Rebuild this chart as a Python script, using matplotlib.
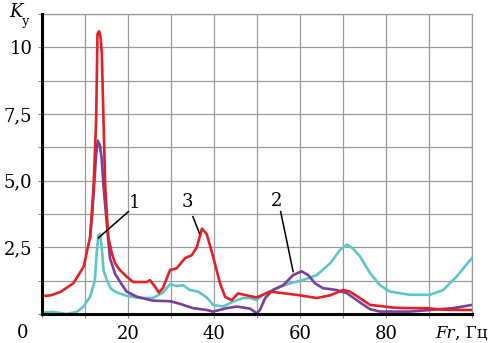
import matplotlib
matplotlib.use("Agg")
import matplotlib.pyplot as plt

# curve 3 (red)
red_x = [0, 2, 4.2, 7.3, 9.7, 11.2, 12.0, 12.6, 12.9, 13.3, 13.6, 13.9, 14.3, 14.7, 15.4,
         16.2, 17.0, 18.1, 19.7, 21.2, 22.8, 24.4, 25.1, 26.3, 27.2, 28.1, 29.8, 31.3, 33.3,
         34.8, 36.0, 37.2, 38.3, 39.8, 41.4, 42.6, 44.1, 45.6, 47.6, 49.9, 51.4, 53.0, 56.1,
         60.0, 63.9, 67.0, 70.0, 71.6, 73.9, 76.3, 78.6, 81.7, 84.8, 89.5, 93.3, 100]
red_y = [0.67, 0.7, 0.82, 1.15, 1.78, 2.9, 4.8, 7.3, 10.5, 10.6, 10.4, 9.8, 7.3, 4.8, 2.9,
         2.3, 1.9, 1.65, 1.4, 1.2, 1.2, 1.2, 1.27, 1.02, 0.8, 0.97, 1.65, 1.71, 2.1,
         2.2, 2.5, 3.2, 3.0, 2.15, 1.15, 0.64, 0.52, 0.77, 0.7, 0.62, 0.72, 0.84, 0.78,
         0.7, 0.6, 0.7, 0.9, 0.84, 0.6, 0.34, 0.3, 0.24, 0.22, 0.22, 0.16, 0.15]

# curve 1 (cyan)
cyan_x = [0, 2.6, 5.7, 8.1, 9.6, 11.2, 12.3, 12.7, 13.1, 13.5, 13.9, 14.3, 15.0, 16.0, 17.5,
          19.7, 22.8, 25.8, 28.1, 29.8, 31.3, 32.8, 34.4, 36.3, 38.3, 39.8, 42.1, 44.4, 46.8,
          48.4, 49.9, 51.4, 54.6, 57.7, 60.7, 63.9, 67.0, 69.3, 70.9, 72.3, 74.0, 76.3, 78.6,
          80.9, 85.6, 90.2, 93.3, 96.4, 100]
cyan_y = [0.05, 0.08, 0.0, 0.08, 0.27, 0.65, 1.27, 2.27, 2.95, 3.0, 2.5, 1.65, 1.3, 0.95, 0.8,
          0.68, 0.6, 0.6, 0.8, 1.12, 1.05, 1.08, 0.9, 0.84, 0.62, 0.34, 0.28, 0.46, 0.6,
          0.6, 0.52, 0.72, 0.97, 1.15, 1.27, 1.46, 1.9, 2.4, 2.6, 2.46, 2.15, 1.53, 1.08,
          0.84, 0.72, 0.72, 0.9, 1.4, 2.1]

# curve 2 (purple)
purple_x = [11.2, 11.7, 12.2, 12.6, 13.0, 13.5, 13.9, 14.3, 15.0, 15.8, 17.0,
            18.9, 19.7, 22.0, 25.8, 29.8, 32.1, 35.1, 38.3, 39.8, 43.0, 45.3, 47.6, 48.4,
            49.9, 50.7, 51.9, 53.7, 56.1, 58.4, 60.4, 61.9, 63.5, 65.3, 68.5, 70.9, 74.0,
            76.3, 78.6, 85.6, 90.2, 95.6, 100]
purple_y = [2.9, 3.8, 5.0, 6.0, 6.5, 6.3, 5.8, 4.8, 3.5, 2.1, 1.5,
            1.02, 0.84, 0.65, 0.5, 0.48, 0.38, 0.22, 0.15, 0.09, 0.22, 0.28, 0.22, 0.2,
            0.03, 0.15, 0.6, 0.9, 1.08, 1.46, 1.6, 1.46, 1.15, 0.97, 0.9, 0.78, 0.43,
            0.18, 0.09, 0.09, 0.15, 0.22, 0.34]

x_ticks = [20, 40, 60, 80]
y_ticks = [2.5, 5.0, 7.5, 10]
y_ticklabels = ["2,5", "5,0", "7,5", "10"]

# label, text position, line start, line end
notes = [("1", (21.6, 4.15), (20.1, 3.84), (13.1, 2.85)),
         ("3", (33.9, 4.2), (35.1, 3.65), (36.6, 3.03)),
         ("2", (54.6, 4.25), (55.5, 3.84), (58.4, 1.59))]

plt.rcParams['font.family'] = ['DejaVu Serif']

fig = plt.figure(figsize=(4.9, 3.43), dpi=100)
ax = fig.add_axes([42 / 490, 29 / 343, 430 / 490, 300 / 343])

ax.plot(cyan_x, cyan_y, color="#5ec6c8", lw=1.9, solid_joinstyle="round", zorder=3)
ax.plot(purple_x, purple_y, color="#7a3f9c", lw=1.9, solid_joinstyle="round", zorder=4)
ax.plot(red_x, red_y, color="#e41f26", lw=1.9, solid_joinstyle="round", zorder=5)

for lab, tpos, p0, p1 in notes:
    ax.plot([p0[0], p1[0]], [p0[1], p1[1]], color="black", lw=1.1, zorder=6)
    ax.text(tpos[0], tpos[1], lab, fontsize=13, ha="center", va="center", zorder=6)

ax.set_xlim(0, 100)
ax.set_ylim(0, 11.25)
ax.set_xticks([0, 10, 20, 30, 40, 50, 60, 70, 80, 90, 100])
ax.set_yticks([0, 1.25, 2.5, 3.75, 5.0, 6.25, 7.5, 8.75, 10, 11.25])
ax.set_xticklabels([str(v) if v in x_ticks else "" for v in ax.get_xticks()])
ax.set_yticklabels([y_ticklabels[y_ticks.index(v)] if v in y_ticks else "" for v in ax.get_yticks()])
ax.tick_params(axis="both", labelsize=13, length=3, width=0.8, color="#888888")
ax.tick_params(axis="x", pad=5)
ax.tick_params(axis="y", pad=4)
ax.grid(True, color="#9a9a9a", lw=0.9)
ax.set_axisbelow(True)

for side in ["top", "right"]:
    ax.spines[side].set_color("#9a9a9a")
    ax.spines[side].set_linewidth(0.9)
for side in ["left", "bottom"]:
    ax.spines[side].set_color("black")
    ax.spines[side].set_linewidth(2.2)
    ax.spines[side].set_zorder(7)

fig.text(23 / 490, 1 - 333 / 343, "0", fontsize=13, ha="center", va="center")
fig.text(16 / 490, 1 - 12 / 343, "K", fontsize=13, style="italic", ha="center", va="center")
fig.text(25 / 490, 1 - 22 / 343, "у", fontsize=9, ha="center", va="center")

# x-axis name: ", Гц" right-aligned to the edge, italic "Fr" just left of it
unit = fig.text(487 / 490, 1 - 333 / 343, ", Гц", fontsize=12, ha="right", va="center")
r = fig.canvas.get_renderer()
bb = unit.get_window_extent(renderer=r)
fig.text(bb.x0 / 490, 1 - 333 / 343, "Fr", fontsize=12, style="italic", ha="right", va="center")

fig.savefig("out.png", dpi=100)
